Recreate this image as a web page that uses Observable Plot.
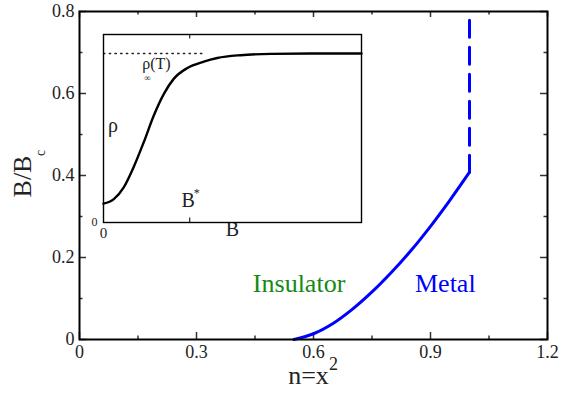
<!DOCTYPE html>
<html>
<head>
<meta charset="utf-8">
<script src="https://cdn.jsdelivr.net/npm/d3@7"></script>
<script src="https://cdn.jsdelivr.net/npm/@observablehq/plot@0.6"></script>
<style>
  html, body { margin: 0; padding: 0; background: white; }
  #wrap { position: relative; width: 574px; height: 399px; overflow: hidden; }
  #inset { position: absolute; left: 89px; top: 30px; }
  svg text { font-family: "Liberation Serif", serif; }
</style>
</head>
<body>
<div id="wrap"><div id="main"></div><div id="inset"></div></div>
<script>
// ---- main chart data ----
const boundaryN = [0.55, 0.60, 0.65, 0.70, 0.75, 0.80, 0.85, 0.90, 0.95, 1.00];
const boundaryB = [0.000, 0.014, 0.039, 0.074, 0.116, 0.164, 0.217, 0.276, 0.340, 0.408];
const dashedN = [1.0, 1.0];
const dashedB = [0.408, 0.8];
const xTicks = [0, 0.3, 0.6, 0.9, 1.2];
const xTickLabels = ["0", "0.3", "0.6", "0.9", "1.2"];
const xMinor = [0.15, 0.45, 0.75, 1.05];
const yTicks = [0, 0.2, 0.4, 0.6, 0.8];
const yTickLabels = ["0", "0.2", "0.4", "0.6", "0.8"];
const yMinor = [0.1, 0.3, 0.5, 0.7];
const regionLabels = ["Insulator", "Metal"];
const regionN = [0.563, 0.938];
const regionB = [0.136, 0.136];

// ---- inset data ----
const insetB   = [0, 0.040, 0.079, 0.117, 0.156, 0.195, 0.234, 0.272, 0.324, 0.389, 0.441, 0.531, 0.65, 0.80, 1.00];
const insetRho = [0.100, 0.124, 0.188, 0.295, 0.427, 0.569, 0.684, 0.764, 0.821, 0.856, 0.875, 0.890, 0.897, 0.899, 0.899];
const asymB = [0, 0.395];
const asymRho = [0.899, 0.899];
const bStar = 0.334;
const insetTicks = [0];

const font = "Liberation Serif";
const ink = "#222";

const boundary = boundaryN.map((n, i) => ({n, b: boundaryB[i]}));
const dashed = dashedN.map((n, i) => ({n, b: dashedB[i]}));
const regions = regionLabels.map((t, i) => ({t, n: regionN[i], b: regionB[i]}));

const W = 468, H = 328; // frame size (for tick insets)
const main = Plot.plot({
  width: 574, height: 399,
  marginLeft: 79, marginRight: 27, marginTop: 11, marginBottom: 60,
  x: {domain: [0, 1.2]},
  y: {domain: [0, 0.8]},
  style: {fontFamily: font, fontSize: "18px", color: ink, background: "white"},
  marks: [
    // inward ticks, all four sides
    Plot.tickX(xTicks, {x: d => d, insetTop: H - 7, stroke: "#333", strokeWidth: 1.5}),
    Plot.tickX(xTicks, {x: d => d, insetBottom: H - 6, stroke: "#333", strokeWidth: 1.5}),
    Plot.tickX(xMinor, {x: d => d, insetTop: H - 3.5, stroke: "#333", strokeWidth: 1.5}),
    Plot.tickX(xMinor, {x: d => d, insetBottom: H - 3.5, stroke: "#333", strokeWidth: 1.5}),
    Plot.tickY(yTicks, {y: d => d, insetRight: W - 7, stroke: "#333", strokeWidth: 1.5}),
    Plot.tickY(yTicks, {y: d => d, insetLeft: W - 7, stroke: "#333", strokeWidth: 1.5}),
    Plot.tickY(yMinor, {y: d => d, insetRight: W - 3.5, stroke: "#333", strokeWidth: 1.5}),
    Plot.tickY(yMinor, {y: d => d, insetLeft: W - 3.5, stroke: "#333", strokeWidth: 1.5}),
    Plot.axisX(xTicks, {tickSize: 0, tickPadding: 6, label: null, fill: ink, fontSize: 18, fontFamily: font,
      tickFormat: d => xTickLabels[xTicks.indexOf(d)]}),
    Plot.axisY(yTicks, {tickSize: 0, tickPadding: 5, label: null, fill: ink, fontSize: 18, fontFamily: font,
      tickFormat: d => yTickLabels[yTicks.indexOf(d)]}),
    // phase boundary
    Plot.line(boundary, {x: "n", y: "b", stroke: "#0000ff", strokeWidth: 3, curve: "catmull-rom"}),
    Plot.line(dashed, {x: "n", y: "b", stroke: "#0000ff", strokeWidth: 3, strokeDasharray: "17,10"}),
    // region labels
    Plot.text(regions, {x: "n", y: "b", text: "t", fontSize: 26, fontFamily: font,
      fill: d => d.t === "Insulator" ? "#138a13" : "#0000ff"}),
    // axis titles
    Plot.text(["n=x"], {frameAnchor: "bottom", textAnchor: "middle", text: d => d, fontSize: 26, fontFamily: font, dx: -5, dy: 44, fill: ink}),
    Plot.text(["2"], {frameAnchor: "bottom", textAnchor: "middle", text: d => d, fontSize: 18, fontFamily: font, dx: 20, dy: 30, fill: ink}),
    Plot.text(["B/B"], {frameAnchor: "middle", textAnchor: "middle", text: d => d, fontSize: 26, fontFamily: font, rotate: -90, dx: -290.6, dy: 1, fill: ink}),
    Plot.text(["c"], {frameAnchor: "middle", textAnchor: "middle", text: d => d, fontSize: 14, fontFamily: font, rotate: -90, dx: -272.5, dy: -22.5, fill: ink}),
    Plot.frame({stroke: "black", strokeWidth: 2})
  ]
});
document.getElementById("main").appendChild(main);

// ---- inset ----
const iH = 188;
const curve = insetB.map((b, i) => ({b, r: insetRho[i]}));
const asym = asymB.map((b, i) => ({b, r: asymRho[i]}));
const inset = Plot.plot({
  width: 275, height: 218,
  marginLeft: 14, marginRight: 3, marginTop: 4, marginBottom: 26,
  x: {domain: [0, 1]},
  y: {domain: [0, 1]},
  style: {fontFamily: font, fontSize: "15px", color: ink, background: "transparent"},
  marks: [
    Plot.frame({fill: "white"}),
    Plot.line(asym, {x: "b", y: "r", stroke: "#222", strokeWidth: 1.3, strokeDasharray: "1.5,4.2"}),
    Plot.line(curve, {x: "b", y: "r", stroke: "black", strokeWidth: 2.4, curve: "monotone-x"}),
    Plot.tickX([bStar], {x: d => d, insetTop: iH - 4.5, stroke: "#333", strokeWidth: 1.3}),
    Plot.tickX([bStar], {x: d => d, insetBottom: iH - 4.5, stroke: "#333", strokeWidth: 1.3}),
    Plot.axisX(insetTicks, {tickSize: 0, tickPadding: 5, fontSize: 15, fontFamily: font, label: null, fill: ink, tickFormat: d => String(d)}),
    Plot.axisY(insetTicks, {tickSize: 0, tickPadding: 6, fontSize: 12, fontFamily: font, label: null, fill: ink, tickFormat: d => String(d)}),
    Plot.text(["B"], {frameAnchor: "bottom", textAnchor: "middle", text: d => d, fontSize: 20, fontFamily: font, dy: 13, fill: ink}),
    Plot.text([bStar], {x: d => d, frameAnchor: "bottom", text: () => "B", fontSize: 20, fontFamily: font, dx: -1.5, dy: -15.4, fill: ink}),
    Plot.text([bStar], {x: d => d, frameAnchor: "bottom", text: () => "*", fontSize: 12, fontFamily: font, dx: 7, dy: -26, fill: ink}),
    Plot.text(["ρ"], {x: () => 0.037, y: () => 0.513, text: d => d, fontSize: 20, fontFamily: font, fill: ink}),
    Plot.text(["ρ(T)"], {x: () => 0.150, y: () => 0.842, text: d => d, fontSize: 16, fontFamily: font, textAnchor: "start", fill: ink}),
    Plot.text(["∞"], {x: () => 0.170, y: () => 0.770, text: d => d, fontSize: 9, fontFamily: font, fill: ink}),
    Plot.frame({stroke: "black", strokeWidth: 1.4})
  ]
});
document.getElementById("inset").appendChild(inset);
</script>
</body>
</html>
